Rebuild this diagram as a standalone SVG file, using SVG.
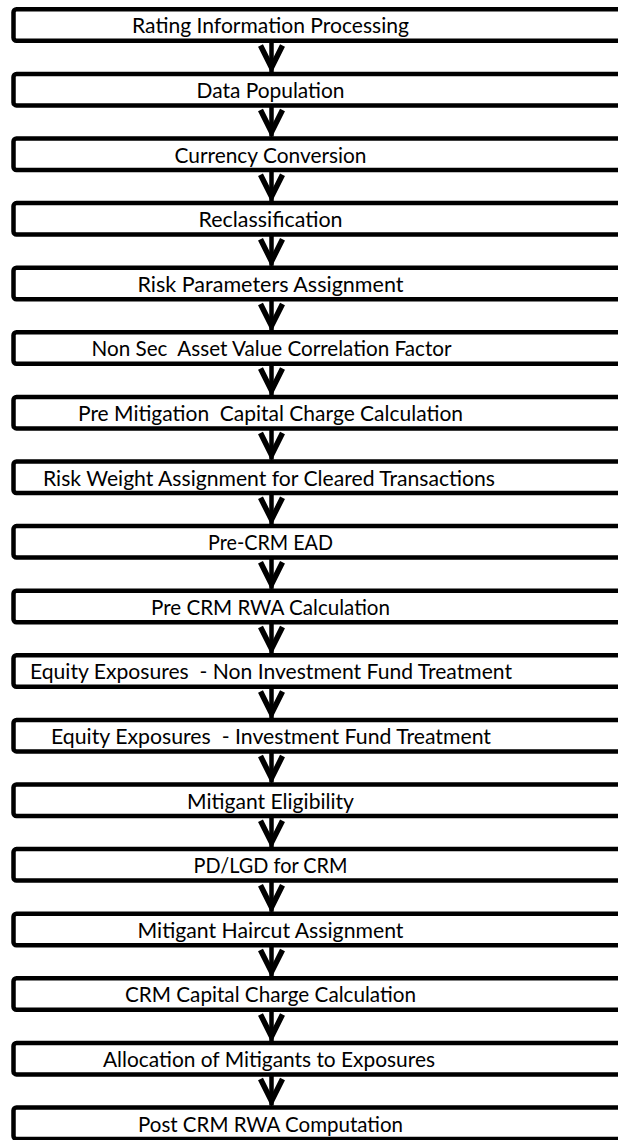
<svg xmlns="http://www.w3.org/2000/svg" width="618" height="1140" viewBox="0 0 618 1140">
<style>
.box{fill:#fff;stroke:#000;stroke-width:4.5}
.lbl{font-family:Lato,"Open Sans","Liberation Sans",sans-serif;font-size:21px;fill:#000;text-anchor:middle;white-space:pre}
.ln{stroke:#000;stroke-width:4.5;fill:none}
.hd{stroke:#000;stroke-width:5.5;fill:none;stroke-linejoin:miter;stroke-miterlimit:10}
</style>
<rect width="618" height="1140" fill="#fff"/>
<g id="connectors">
<path class="ln" d="M271.5 40.8V72 M271.5 105.4V136.5 M271.5 170V201 M271.5 234.6V265.7 M271.5 299.2V330.3 M271.5 363.8V394.9 M271.5 428.4V459.5 M271.5 493V524.1 M271.5 557.6V588.7 M271.5 622.2V653.3 M271.5 686.8V717.9 M271.5 751.4V782.5 M271.5 816V847.1 M271.5 880.6V911.7 M271.5 945.2V976.3 M271.5 1009.8V1040.9 M271.5 1074.4V1105.5"/>
<path class="hd" d="M260.5 45.5L271.5 67.5L282.5 45.5 M260.5 110.1L271.5 132.1L282.5 110.1 M260.5 174.7L271.5 196.7L282.5 174.7 M260.5 239.3L271.5 261.3L282.5 239.3 M260.5 303.9L271.5 325.9L282.5 303.9 M260.5 368.5L271.5 390.5L282.5 368.5 M260.5 433.1L271.5 455.1L282.5 433.1 M260.5 497.7L271.5 519.7L282.5 497.7 M260.5 562.3L271.5 584.3L282.5 562.3 M260.5 626.9L271.5 648.9L282.5 626.9 M260.5 691.5L271.5 713.5L282.5 691.5 M260.5 756.1L271.5 778.1L282.5 756.1 M260.5 820.7L271.5 842.7L282.5 820.7 M260.5 885.3L271.5 907.3L282.5 885.3 M260.5 949.9L271.5 971.9L282.5 949.9 M260.5 1014.5L271.5 1036.5L282.5 1014.5 M260.5 1079.1L271.5 1101.1L282.5 1079.1"/>
</g>
<g id="n1"><rect class="box" x="13.5" y="9.3" width="620" height="31.5" rx="3"/><text class="lbl" x="270.5" y="33.3" textLength="277" lengthAdjust="spacingAndGlyphs">Rating Information Processing</text></g>
<g id="n2"><rect class="box" x="13.5" y="73.9" width="620" height="31.5" rx="3"/><text class="lbl" x="270.5" y="97.9" textLength="148" lengthAdjust="spacingAndGlyphs">Data Population</text></g>
<g id="n3"><rect class="box" x="13.5" y="138.5" width="620" height="31.5" rx="3"/><text class="lbl" x="270.5" y="162.5" textLength="192" lengthAdjust="spacingAndGlyphs">Currency Conversion</text></g>
<g id="n4"><rect class="box" x="13.5" y="203.1" width="620" height="31.5" rx="3"/><text class="lbl" x="270.5" y="227.1" textLength="144" lengthAdjust="spacingAndGlyphs">Reclassification</text></g>
<g id="n5"><rect class="box" x="13.5" y="267.7" width="620" height="31.5" rx="3"/><text class="lbl" x="270.5" y="291.7" textLength="266" lengthAdjust="spacingAndGlyphs">Risk Parameters Assignment</text></g>
<g id="n6"><rect class="box" x="13.5" y="332.3" width="620" height="31.5" rx="3"/><text class="lbl" x="271.5" y="356.3" textLength="360" lengthAdjust="spacingAndGlyphs">Non Sec  Asset Value Correlation Factor</text></g>
<g id="n7"><rect class="box" x="13.5" y="396.9" width="620" height="31.5" rx="3"/><text class="lbl" x="270.5" y="420.9" textLength="385" lengthAdjust="spacingAndGlyphs">Pre Mitigation  Capital Charge Calculation</text></g>
<g id="n8"><rect class="box" x="13.5" y="461.5" width="620" height="31.5" rx="3"/><text class="lbl" x="269" y="485.5" textLength="452" lengthAdjust="spacingAndGlyphs">Risk Weight Assignment for Cleared Transactions</text></g>
<g id="n9"><rect class="box" x="13.5" y="526.1" width="620" height="31.5" rx="3"/><text class="lbl" x="270.5" y="550.1" textLength="125" lengthAdjust="spacingAndGlyphs">Pre-CRM EAD</text></g>
<g id="n10"><rect class="box" x="13.5" y="590.7" width="620" height="31.5" rx="3"/><text class="lbl" x="270.5" y="614.7" textLength="239" lengthAdjust="spacingAndGlyphs">Pre CRM RWA Calculation</text></g>
<g id="n11"><rect class="box" x="13.5" y="655.3" width="620" height="31.5" rx="3"/><text class="lbl" x="271" y="679.3" textLength="482" lengthAdjust="spacingAndGlyphs">Equity Exposures  - Non Investment Fund Treatment</text></g>
<g id="n12"><rect class="box" x="13.5" y="719.9" width="620" height="31.5" rx="3"/><text class="lbl" x="271" y="743.9" textLength="440" lengthAdjust="spacingAndGlyphs">Equity Exposures  - Investment Fund Treatment</text></g>
<g id="n13"><rect class="box" x="13.5" y="784.5" width="620" height="31.5" rx="3"/><text class="lbl" x="270.5" y="808.5" textLength="167" lengthAdjust="spacingAndGlyphs">Mitigant Eligibility</text></g>
<g id="n14"><rect class="box" x="13.5" y="849.1" width="620" height="31.5" rx="3"/><text class="lbl" x="270.5" y="873.1" textLength="154" lengthAdjust="spacingAndGlyphs">PD/LGD for CRM</text></g>
<g id="n15"><rect class="box" x="13.5" y="913.7" width="620" height="31.5" rx="3"/><text class="lbl" x="270.5" y="937.7" textLength="266" lengthAdjust="spacingAndGlyphs">Mitigant Haircut Assignment</text></g>
<g id="n16"><rect class="box" x="13.5" y="978.3" width="620" height="31.5" rx="3"/><text class="lbl" x="270.5" y="1002.3" textLength="291" lengthAdjust="spacingAndGlyphs">CRM Capital Charge Calculation</text></g>
<g id="n17"><rect class="box" x="13.5" y="1042.9" width="620" height="31.5" rx="3"/><text class="lbl" x="269" y="1066.9" textLength="332" lengthAdjust="spacingAndGlyphs">Allocation of Mitigants to Exposures</text></g>
<g id="n18"><rect class="box" x="13.5" y="1107.5" width="620" height="31.5" rx="3"/><text class="lbl" x="270.5" y="1131.5" textLength="265" lengthAdjust="spacingAndGlyphs">Post CRM RWA Computation</text></g>
</svg>
